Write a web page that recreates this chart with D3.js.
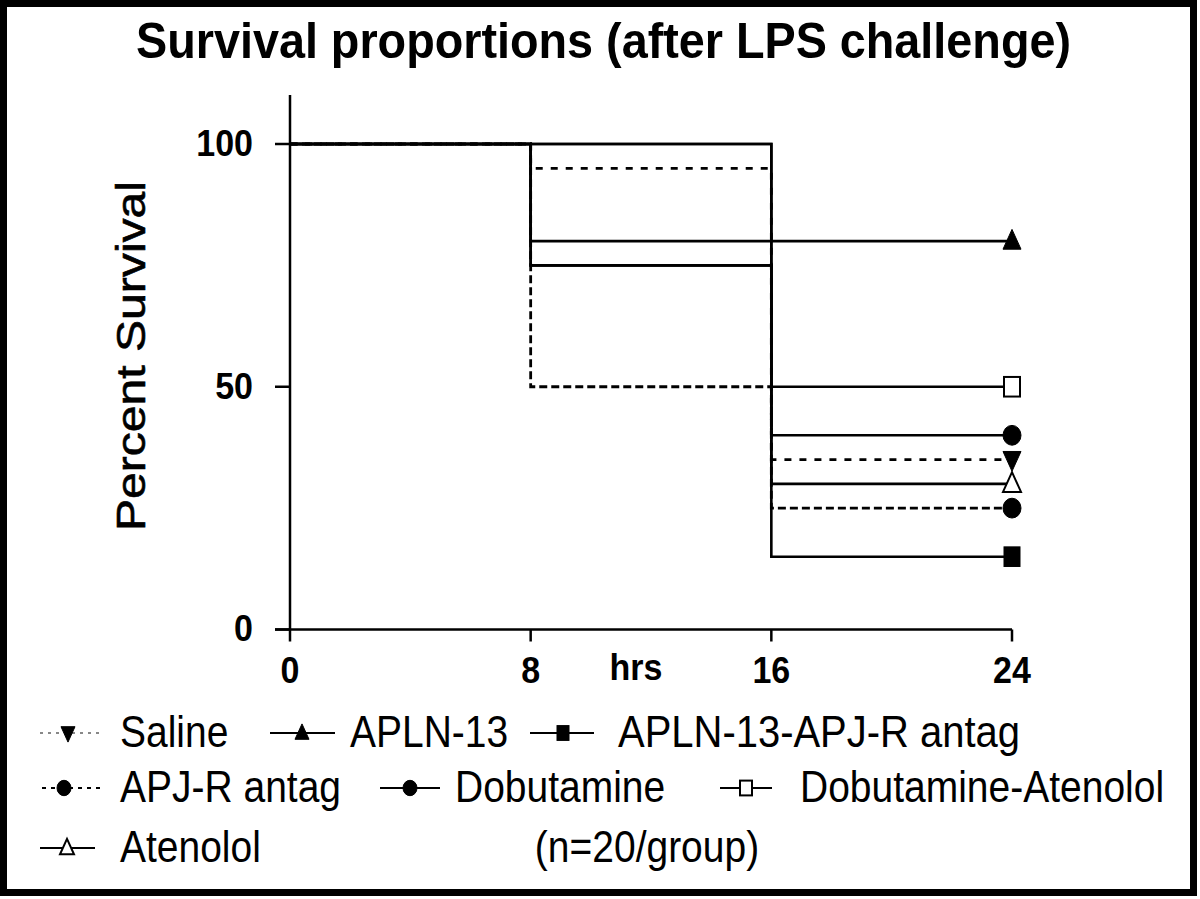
<!DOCTYPE html>
<html><head><meta charset="utf-8">
<script src="https://cdn.jsdelivr.net/npm/d3@7"></script>
<style>html,body{margin:0;padding:0;background:#fff;}svg{display:block;font-family:"Liberation Sans",Arial,sans-serif;}</style>
</head><body>
<svg id="chart" width="1200" height="899"></svg>
<script>
const times = [0, 8, 16, 24];
const seriesNames = ["Saline", "APLN-13", "APLN-13-APJ-R antag", "APJ-R antag", "Dobutamine", "Dobutamine-Atenolol", "Atenolol"];
const saline = [100, 95, 35, 35];
const apln13 = [100, 80, 80, 80];
const aplnAntag = [100, 100, 15, 15];
const apjAntag = [100, 50, 25, 25];
const dobutamine = [100, 100, 40, 40];
const dobAten = [100, 75, 50, 50];
const atenolol = [100, 75, 30, 30];
const xTicks = [0, 8, 16, 24];
const yTicks = [0, 50, 100];

const svg = d3.select("#chart");
const x = d3.scaleLinear().domain([0, 24]).range([290, 1012]);
const y = d3.scaleLinear().domain([0, 100]).range([629.5, 144]);

// frame
svg.append("rect").attr("x", 3.5).attr("y", 3.5).attr("width", 1190).attr("height", 889)
  .attr("fill", "none").attr("stroke", "#000").attr("stroke-width", 7);

// title
svg.append("text").attr("x", 136).attr("y", 58).attr("font-size", 44).attr("font-weight", "bold")
  .attr("textLength", 935).attr("lengthAdjust", "spacingAndGlyphs")
  .attr("transform", "translate(0,58) scale(1,1.14) translate(0,-58)")
  .text("Survival proportions (after LPS challenge)");

// axes
const axG = svg.append("g").attr("stroke", "#000").attr("stroke-width", 2.5);
axG.append("line").attr("x1", x(0)).attr("x2", x(0)).attr("y1", 95).attr("y2", y(0));
axG.append("line").attr("x1", x(0) - 15).attr("x2", x(24)).attr("y1", y(0)).attr("y2", y(0));
yTicks.forEach(t => axG.append("line").attr("x1", x(0) - 15).attr("x2", x(0)).attr("y1", y(t)).attr("y2", y(t)));
xTicks.forEach(t => axG.append("line").attr("x1", x(t)).attr("x2", x(t)).attr("y1", y(0)).attr("y2", y(0) + 12));

yTicks.forEach(t => svg.append("text").attr("x", 253).attr("y", y(t) + 12).attr("text-anchor", "end")
  .attr("font-size", 34).attr("font-weight", "bold")
  .attr("transform", `translate(0,${y(t) + 12}) scale(1,1.08) translate(0,${-(y(t) + 12)})`).text(t));
xTicks.forEach(t => svg.append("text").attr("x", x(t)).attr("y", 683).attr("text-anchor", "middle")
  .attr("font-size", 34).attr("font-weight", "bold")
  .attr("transform", "translate(0,683) scale(1,1.08) translate(0,-683)").text(t));
svg.append("text").attr("x", 636).attr("y", 680).attr("text-anchor", "middle")
  .attr("font-size", 34).attr("font-weight", "bold")
  .attr("transform", "translate(0,680) scale(1,1.08) translate(0,-680)").text("hrs");

svg.append("text").attr("transform", "translate(145,356) rotate(-90)").attr("text-anchor", "middle")
  .attr("font-size", 40).attr("textLength", 350).attr("lengthAdjust", "spacingAndGlyphs")
  .attr("stroke", "#000").attr("stroke-width", 0.6)
  .text("Percent Survival");

// series definitions
const seriesData = [saline, apln13, aplnAntag, apjAntag, dobutamine, dobAten, atenolol];
const styles = [
  {dash: "7,8", sw: 2.8, sym: "down", fill: "#000", legendStroke: "#888", legendDash: "3,5"},
  {dash: null, sw: 2.6, sym: "up", fill: "#000"},
  {dash: null, sw: 2.6, sym: "square", fill: "#000"},
  {dash: "8,4", sw: 2.8, sym: "circle", fill: "#000", legendDash: "4,5"},
  {dash: null, sw: 2.6, sym: "circle", fill: "#000"},
  {dash: null, sw: 2.6, sym: "square", fill: "#fff"},
  {dash: null, sw: 2.6, sym: "up", fill: "#fff"}
];

const line = d3.line().x((d, i) => x(times[i])).y(d => y(d)).curve(d3.curveStepAfter);

// draw dashed first, solid on top
const order = [0, 3, 1, 2, 4, 5, 6];
order.forEach(k => {
  const s = styles[k];
  svg.append("path").datum(seriesData[k]).attr("d", line).attr("fill", "none")
    .attr("stroke", "#000").attr("stroke-width", s.sw)
    .attr("stroke-dasharray", s.dash);
});

function drawSymbol(g, type, cx, cy, sz, fill) {
  const sw = fill === "#fff" ? 2 : 1;
  let el;
  if (type === "circle") {
    el = g.append("ellipse").attr("cx", cx).attr("cy", cy).attr("rx", sz / 2).attr("ry", sz / 2 * 1.1);
  } else if (type === "square") {
    el = g.append("rect").attr("x", cx - sz / 2 + 1).attr("y", cy - sz * 0.6 + 1).attr("width", sz - 2).attr("height", sz * 1.2 - 2);
  } else if (type === "up") {
    el = g.append("path").attr("d", `M${cx},${cy - sz * 0.65}L${cx + sz / 2},${cy + sz * 0.45}L${cx - sz / 2},${cy + sz * 0.45}Z`);
  } else {
    el = g.append("path").attr("d", `M${cx},${cy + sz * 0.65}L${cx + sz / 2},${cy - sz * 0.45}L${cx - sz / 2},${cy - sz * 0.45}Z`);
  }
  el.attr("fill", fill).attr("stroke", "#000").attr("stroke-width", sw);
}

const mk = svg.append("g");
seriesData.forEach((arr, k) => {
  drawSymbol(mk, styles[k].sym, x(times[3]), y(arr[3]), 18, styles[k].fill);
});

// legend
const legendPos = [
  {lx1: 40, lx2: 102, mx: 68, ty: 733, tx: 120},
  {lx1: 270, lx2: 335, mx: 302, ty: 733, tx: 350},
  {lx1: 530, lx2: 594, mx: 563, ty: 733, tx: 618},
  {lx1: 42, lx2: 100, mx: 64, ty: 788, tx: 120},
  {lx1: 380, lx2: 440, mx: 410, ty: 788, tx: 455},
  {lx1: 720, lx2: 772, mx: 746, ty: 788, tx: 800},
  {lx1: 40, lx2: 95, mx: 67, ty: 848, tx: 120}
];
const lg = svg.append("g");
seriesNames.forEach((name, k) => {
  const p = legendPos[k], s = styles[k];
  lg.append("line").attr("x1", p.lx1).attr("x2", p.lx2).attr("y1", p.ty).attr("y2", p.ty)
    .attr("stroke", s.legendStroke || "#000").attr("stroke-width", 2.2)
    .attr("stroke-dasharray", s.legendDash || null);
  drawSymbol(lg, s.sym, p.mx, p.ty, 14, s.fill);
  const t = lg.append("text").attr("x", p.tx).attr("y", p.ty + 14).attr("font-size", 39)
    .attr("transform", `translate(0,${p.ty + 14}) scale(1,1.12) translate(0,${-(p.ty + 14)})`)
    .text(name);
  if (k === 2) t.attr("textLength", 402).attr("lengthAdjust", "spacingAndGlyphs");
});
lg.append("text").attr("x", 647).attr("y", 862).attr("text-anchor", "middle").attr("font-size", 39)
  .attr("transform", "translate(0,862) scale(1,1.12) translate(0,-862)")
  .text("(n=20/group)");
</script>
</body></html>
